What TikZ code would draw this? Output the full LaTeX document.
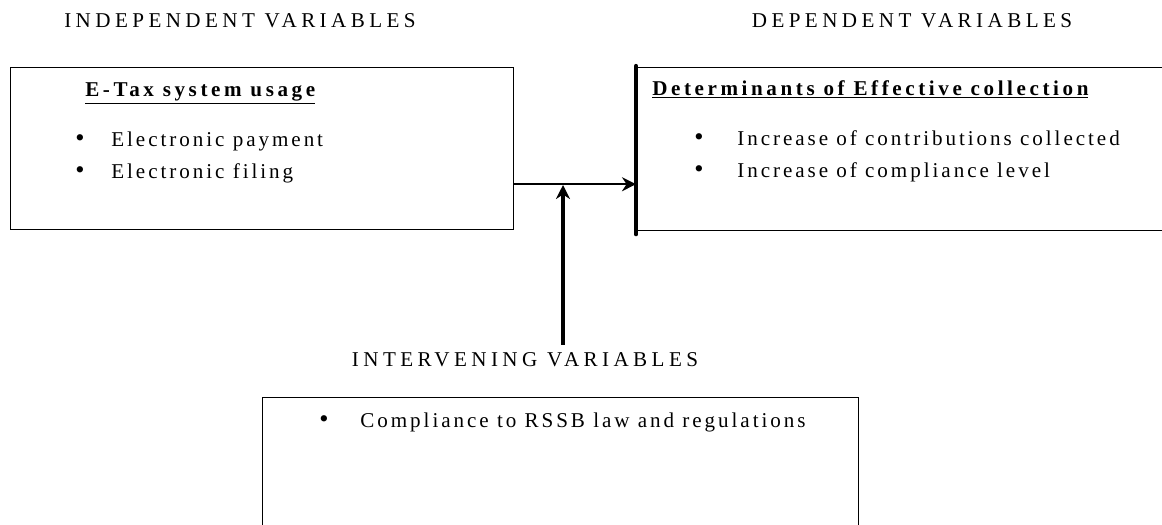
\documentclass[tikz,border=0pt]{standalone}
\usepackage{fontspec}
\setmainfont{Liberation Serif}[LetterSpace=14]
\newfontfamily\headfont{Liberation Serif}[LetterSpace=21]
\newfontfamily\titlefont{Liberation Serif}[LetterSpace=17]
\newcommand{\blt}{{\fontsize{15}{15}\selectfont\textbullet}}
\usetikzlibrary{positioning,arrows.meta}

\begin{document}
\begin{tikzpicture}[x=0.02cm,y=-0.02cm,
    heading/.style={font=\fontsize{12}{14}\selectfont\headfont,anchor=base,inner sep=1pt},
    varbox/.style={rectangle,draw,line width=0.7pt,anchor=north west,inner sep=0pt},
    boxtitle/.style={font=\fontsize{12}{14}\selectfont\titlefont\bfseries,anchor=base west,inner sep=0pt},
    item/.style={font=\fontsize{12}{14}\selectfont,anchor=base west,inner sep=0pt},
    arrow/.style={-{Stealth[length=2.8mm,width=2.8mm]},line width=1.4pt}
]
\clip (0,0) rectangle (1162,524);

% Headings
\node[heading] (ind-label) at (240,28) {INDEPENDENT VARIABLES};
\node[heading] (dep-label) at (912,28) {DEPENDENT VARIABLES};
\node[heading] (iv-label) at (525,366) {INTERVENING VARIABLES};

% Boxes
\node[varbox,minimum width=10.06cm,minimum height=3.24cm] (ind-box) at (10,67) {};
\node[varbox,minimum width=11cm,minimum height=3.26cm] (dep-box) at (636,67) {};
\node[varbox,minimum width=11.92cm,minimum height=3cm] (iv-box) at (262,397) {};
\draw[line width=2.4pt,line cap=round] ([yshift=0.02cm]dep-box.north west) -- ([yshift=-0.06cm]dep-box.south west);

% Independent variables
\node[boxtitle] (ind-title) at (85,96) {\underline{E-Tax system usage}};
\node[item] (ind-a) at (75,146) {\makebox[0.72cm][l]{\blt}Electronic payment};
\node[item] (ind-b) at (75,178) {\makebox[0.72cm][l]{\blt}Electronic filing};

% Dependent variables
\node[boxtitle] (dep-title) at (652,95) {\underline{Determinants of Effective collection}};
\node[item] (dep-a) at (694,145) {\makebox[0.86cm][l]{\blt}Increase of contributions collected};
\node[item] (dep-b) at (694,177) {\makebox[0.86cm][l]{\blt}Increase of compliance level};

% Intervening variables
\node[item] (iv-a) at (319,427) {\makebox[0.82cm][l]{\blt}Compliance to RSSB law and regulations};

% Connectors
\draw[arrow] ([yshift=0.92cm]ind-box.south east) coordinate (from) -- (from -| dep-box.west);
\coordinate (join) at (563,185);
\draw[arrow,line width=2pt] ([yshift=0.1cm]join |- iv-label.north) -- (join);

\end{tikzpicture}
\end{document}
